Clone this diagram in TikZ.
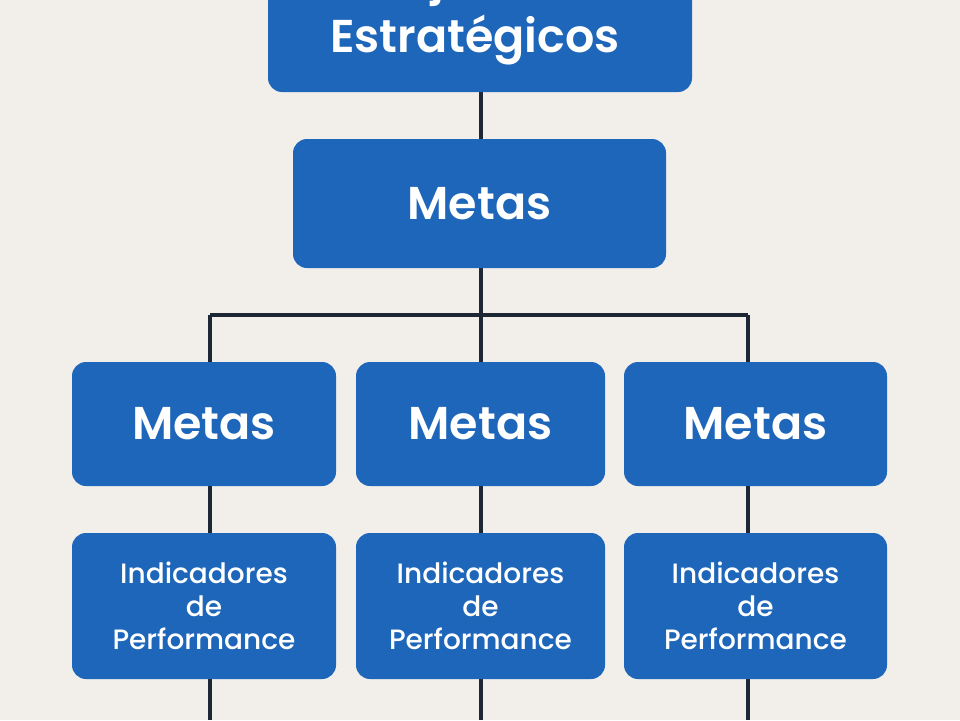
\documentclass[tikz,border=0pt]{standalone}
\usepackage{fontspec}
\setmainfont{Poppins}
\newfontfamily\sbfont{Poppins SemiBold}
\newfontfamily\mdfont{Poppins Medium}
\definecolor{bg}{HTML}{F2EFEB}
\definecolor{bx}{HTML}{1E66B9}
\definecolor{ln}{HTML}{1E2834}
\begin{document}
\begin{tikzpicture}[x=1pt,y=-1pt,
  box/.style={fill=bx,rounded corners=14pt,text=white,align=center,inner sep=0pt},
  big/.style={font=\fontsize{46}{54}\selectfont\sbfont},
  conn/.style={draw=ln,line width=4pt}]
\useasboundingbox (0,0) rectangle (960,720);
\clip (0,0) rectangle (960,720);
\fill[bg] (0,0) rectangle (960,720);
\coordinate (bar) at (481,315);
\coordinate (barL) at (210,315);
\coordinate (barR) at (748,315);
\draw[conn] (481,60) -- (481,200);
\draw[conn] (481,200) -- (bar);
\draw[conn] (barL) -- (barR);
\foreach \x in {210,481,748}{\draw[conn] (\x,315) -- (\x,720);}
\node[box,minimum width=424pt,minimum height=180pt] (top) at (480,2) {};
\node[text=white,big,align=center,anchor=south] (toptext) at (475,69) {Objetivos\\[4pt]Estratégicos};
\node[box,big,minimum width=373pt,minimum height=129pt] (main) at (479.5,203.5) {Metas};
\foreach \n/\a/\b in {1/72/336,2/356/605,3/624/887}{
  \node[box,big,minimum width={\b pt-\a pt},minimum height=124pt] (m\n) at ({(\a+\b)/2},424) {Metas};
  \node[box,minimum width={\b pt-\a pt},minimum height=146pt,font=\fontsize{28}{33}\selectfont\mdfont] (i\n) at ({(\a+\b)/2},606) {Indicadores\\de\\Performance};
}
\end{tikzpicture}
\end{document}
